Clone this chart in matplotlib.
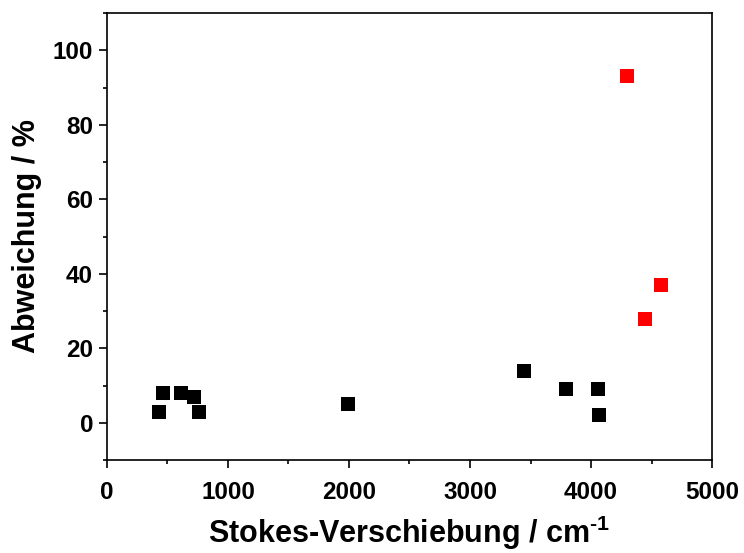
import numpy as np
import matplotlib
matplotlib.use('Agg')
import matplotlib.pyplot as plt
from matplotlib.ticker import MultipleLocator

# data
stokes_black = [430, 463, 612, 719, 760, 1992, 3446, 3793, 4058, 4066]
dev_black = [3, 8, 8, 7, 3, 5, 14, 9, 9, 2]
stokes_red = [4298, 4579, 4446]
dev_red = [93, 37, 28]

plt.rcParams['font.family'] = ['Liberation Sans', 'DejaVu Sans']
plt.rcParams['font.weight'] = 'bold'
plt.rcParams['mathtext.fontset'] = 'custom'
plt.rcParams['mathtext.rm'] = 'Liberation Sans:bold'
plt.rcParams['mathtext.bf'] = 'Liberation Sans:bold'

fig = plt.figure(figsize=(7.44, 5.53), dpi=100)
ax = fig.add_axes([0.1438, 0.168, 0.957 - 0.1438, 0.9765 - 0.168])

ax.plot(stokes_black, dev_black, 's', color='black', markersize=9.5, markeredgewidth=0)
ax.plot(stokes_red, dev_red, 's', color='red', markersize=9.5, markeredgewidth=0)

ax.set_xlim(0, 5000)
ax.set_ylim(-10, 110)
ax.xaxis.set_major_locator(MultipleLocator(1000))
ax.xaxis.set_minor_locator(MultipleLocator(500))
ax.yaxis.set_minor_locator(MultipleLocator(10))
ax.set_yticks(np.arange(0, 101, 20))

for s in ax.spines.values():
    s.set_linewidth(1.2)
ax.tick_params(which='both', direction='out', top=False, right=False, width=1.2)
ax.tick_params(which='major', length=6, labelsize=17.5)
ax.tick_params(axis='x', which='major', pad=9)
ax.tick_params(axis='y', which='major', pad=4)
ax.tick_params(which='minor', length=3)
for lab in ax.get_xticklabels() + ax.get_yticklabels():
    lab.set_fontweight('bold')

ax.set_xlabel(r'Stokes-Verschiebung / cm$^{\mathbf{\text{-}1}}$', fontsize=22, fontweight='bold', labelpad=7)
ax.set_ylabel('Abweichung / %', fontsize=22, fontweight='bold', labelpad=8)

fig.savefig('out.png', dpi=100)
